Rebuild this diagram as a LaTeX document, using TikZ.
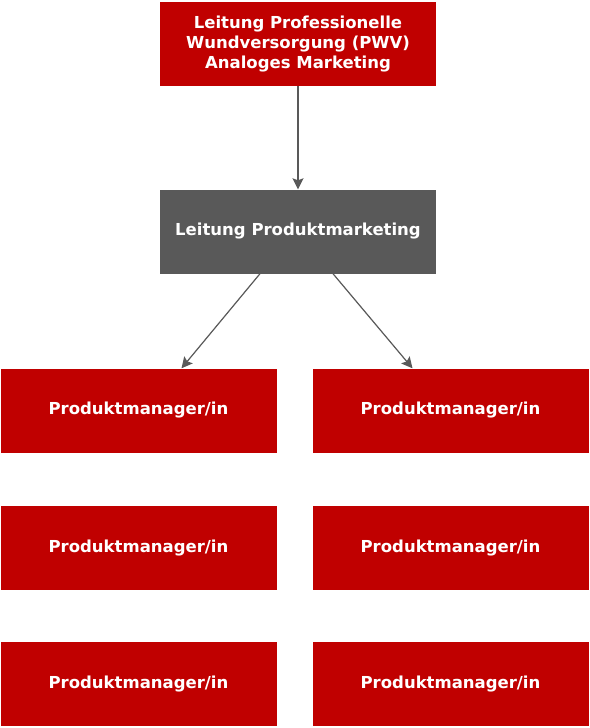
\documentclass[tikz,border=0pt]{standalone}
\usepackage{fontspec}
\setmainfont{DejaVu Sans}
\usetikzlibrary{positioning,arrows.meta}
\definecolor{pwvred}{HTML}{C00000}
\definecolor{pwvgray}{HTML}{595959}
\tikzset{>={Stealth[length=11pt,width=11pt,inset=2pt]}}
\tikzset{
    box/.style={fill=pwvred, text=white, font=\bfseries\fontsize{16.5}{20}\selectfont,
        minimum width=276pt, minimum height=84pt, inner sep=0pt, align=center},
    greybox/.style={box, fill=pwvgray},
    link/.style={->, draw=pwvgray, fill=pwvgray, line width=1.2pt}
}

\begin{document}
\begin{tikzpicture}[x=1pt,y=-1pt]
    \useasboundingbox (0,0) rectangle (589,728);
    % set up the nodes
    \node[box] (PWV) at (298,44) {Leitung Professionelle\\Wundversorgung (PWV)\\Analoges Marketing};
    \node[greybox] (LPM) at (298,231.5) {Leitung Produktmarketing};
    \node[box] (PM1) at (138.5,410.5) {Produktmanager/in};
    \node[box] (PM2) at (450.5,410.5) {Produktmanager/in};
    \node[box, below=53pt of PM1] (PM3) {Produktmanager/in};
    \node[box, below=53pt of PM2] (PM4) {Produktmanager/in};
    \node[box, below=52pt of PM3] (PM5) {Produktmanager/in};
    \node[box, below=52pt of PM4] (PM6) {Produktmanager/in};
    % draw arrows between them
    \draw[link] (PWV.south) -- (LPM.north);
    \draw[link] ([xshift=-38pt]LPM.south) -- ([xshift=43pt]PM1.north);
    \draw[link] ([xshift=35pt]LPM.south) -- ([xshift=-38pt]PM2.north);
\end{tikzpicture}
\end{document}
